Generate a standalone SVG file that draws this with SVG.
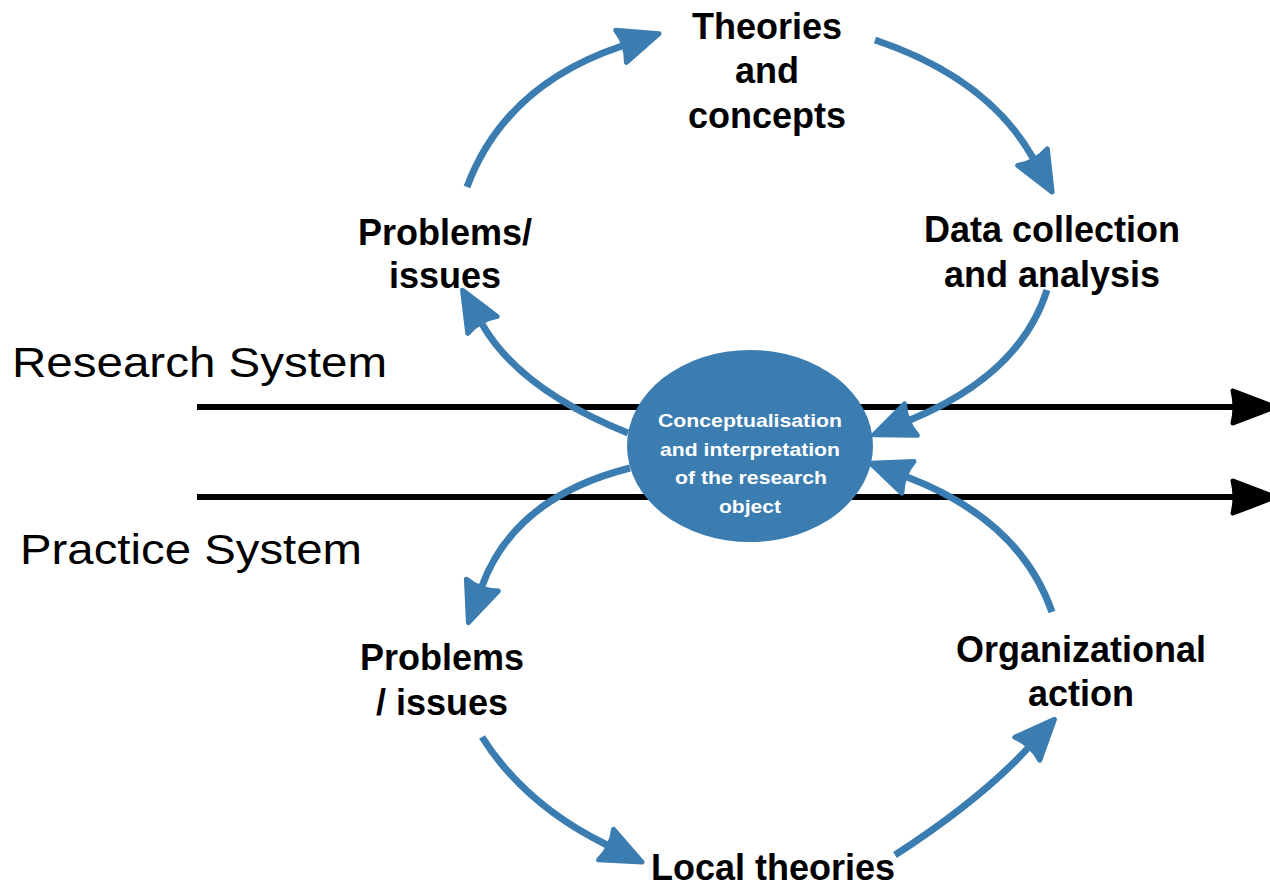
<svg xmlns="http://www.w3.org/2000/svg" width="1270" height="887" viewBox="0 0 1270 887">
<style>
.lbl{font-family:"Liberation Sans",Arial,sans-serif;font-weight:bold;font-size:36px;fill:#000;text-anchor:middle}
.sys{font-family:"Liberation Sans",Arial,sans-serif;font-size:42px;fill:#000}
.ell{font-family:"Liberation Sans",Arial,sans-serif;font-weight:bold;font-size:19px;fill:#fff;text-anchor:middle}
.arc{fill:none;stroke:#3b7db1;stroke-width:7;stroke-linecap:butt}
.axis{fill:none;stroke:#000;stroke-width:6}
</style>
<defs>
<marker id="blueHead" markerUnits="userSpaceOnUse" viewBox="-4 -22 50 44" refX="1" refY="0" markerWidth="50" markerHeight="44" orient="auto" overflow="visible">
<path d="M0,-17 L40,0 L0,17 Q6,0 0,-17 Z" fill="#3b7db1" stroke="#3b7db1" stroke-width="5" stroke-linejoin="round"/>
</marker>
<marker id="blackHead" markerUnits="userSpaceOnUse" viewBox="-4 -22 50 44" refX="1" refY="0" markerWidth="50" markerHeight="44" orient="auto" overflow="visible">
<path d="M0,-16 L42,0 L0,16 Q4,0 0,-16 Z" fill="#000" stroke="#000" stroke-width="5" stroke-linejoin="round"/>
</marker>
</defs>
<rect width="1270" height="887" fill="#fff"/>

<g id="system-axes">
<line class="axis" x1="197" y1="407" x2="1234" y2="407" marker-end="url(#blackHead)"/>
<line class="axis" x1="197" y1="497" x2="1234" y2="497" marker-end="url(#blackHead)"/>
</g>

<g id="center">
<ellipse cx="750" cy="446" rx="123" ry="96" fill="#3b7db1"/>
<text class="ell" x="750" y="427" textLength="184" lengthAdjust="spacingAndGlyphs">Conceptualisation</text>
<text class="ell" x="750" y="456" textLength="180" lengthAdjust="spacingAndGlyphs">and interpretation</text>
<text class="ell" x="751" y="484" textLength="152" lengthAdjust="spacingAndGlyphs">of the research</text>
<text class="ell" x="750" y="513" textLength="62" lengthAdjust="spacingAndGlyphs">object</text>
</g>

<g id="connectors">
<path class="arc" d="M467,187 Q505,85 622,46" marker-end="url(#blueHead)"/>
<path class="arc" d="M875,40 Q988,78 1033,158" marker-end="url(#blueHead)"/>
<path class="arc" d="M1047,290 Q1020,375 910,420" marker-end="url(#blueHead)"/>
<path class="arc" d="M1052,612 Q1020,520 907,477" marker-end="url(#blueHead)"/>
<path class="arc" d="M628,433 Q520,390 482,324" marker-end="url(#blueHead)"/>
<path class="arc" d="M630,468 Q515,497 482,586" marker-end="url(#blueHead)"/>
<path class="arc" d="M482,737 Q525,805 607,845" marker-end="url(#blueHead)"/>
<path class="arc" d="M895,855 Q980,800 1028,748" marker-end="url(#blueHead)"/>
</g>

<g id="research-system"><text class="sys" x="12" y="377" textLength="375" lengthAdjust="spacingAndGlyphs">Research System</text></g>
<g id="practice-system"><text class="sys" x="20" y="564" textLength="342" lengthAdjust="spacingAndGlyphs">Practice System</text></g>

<g id="theories">
<text class="lbl" x="767" y="39">Theories</text>
<text class="lbl" x="767" y="83">and</text>
<text class="lbl" x="767" y="128">concepts</text>
</g>
<g id="data-collection">
<text class="lbl" x="1052" y="242">Data collection</text>
<text class="lbl" x="1052" y="287">and analysis</text>
</g>
<g id="problems-research">
<text class="lbl" x="445" y="245">Problems/</text>
<text class="lbl" x="445" y="288">issues</text>
</g>
<g id="problems-practice">
<text class="lbl" x="442" y="670">Problems</text>
<text class="lbl" x="442" y="715">/ issues</text>
</g>
<g id="organizational-action">
<text class="lbl" x="1081" y="662">Organizational</text>
<text class="lbl" x="1081" y="706">action</text>
</g>
<g id="local-theories">
<text class="lbl" x="773" y="880">Local theories</text>
</g>
</svg>
